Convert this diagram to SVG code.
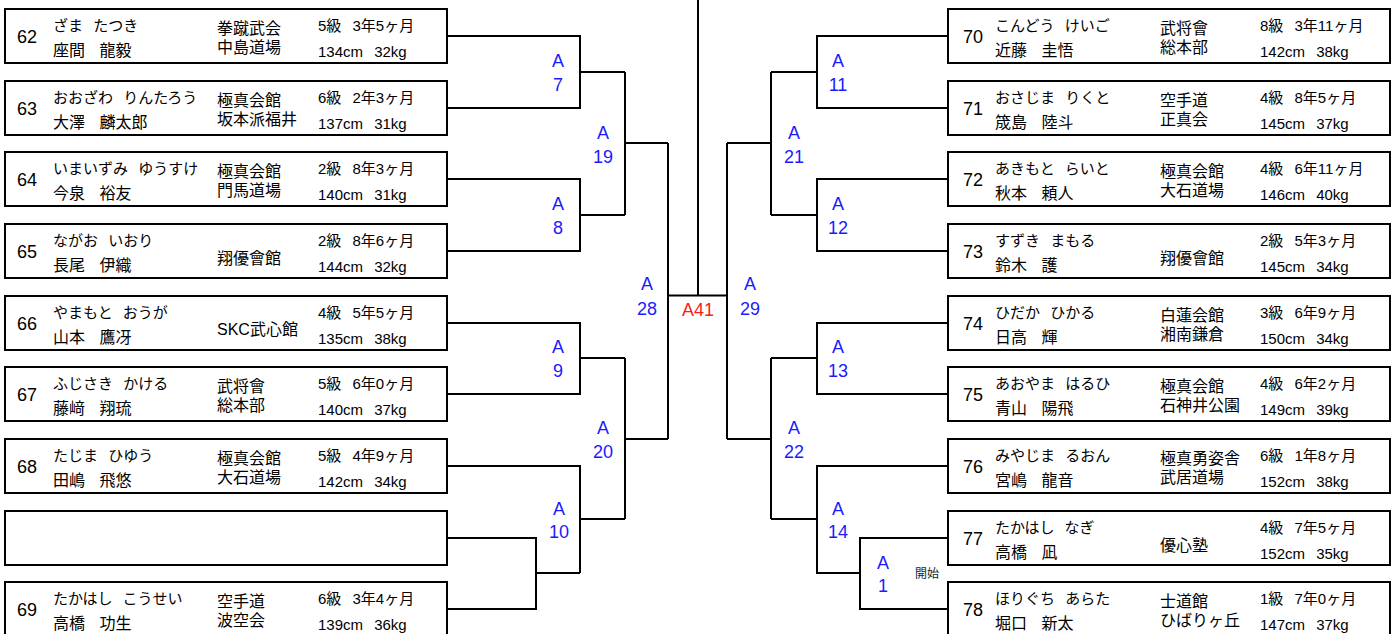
<svg xmlns="http://www.w3.org/2000/svg" width="1397" height="634" viewBox="0 0 1397 634">
<style>
text{font-family:"Liberation Sans","Noto Sans CJK JP",sans-serif;fill:#000}
.box{fill:#fff;stroke:#000;stroke-width:2}
.num{font-size:18px}
.kana{font-size:15px;word-spacing:6px}
.kanji{font-size:16px;word-spacing:10px}
.dojo{font-size:16px}
.grade{font-size:15px;word-spacing:7px}
.lbl{font-size:18px;fill:#1a1aff;text-anchor:middle}
.red{fill:#ff1a1a}
.start{font-size:12px;fill:#222}
.wire{fill:none;stroke:#000;stroke-width:2}
</style>
<rect width="1397" height="634" fill="#fff"/>
<g id="connectors" class="wire">
<path d="M447,36H580V108H447M580,72H625"/>
<path d="M447,179H580V251H447M580,215H625"/>
<path d="M625,72V215M625,143H668"/>
<path d="M447,323H580V394H447M580,358H625"/>
<path d="M447,538H536V609H447M536,573H580"/>
<path d="M447,466H580V573M580,519H625"/>
<path d="M625,358V519M625,439H668"/>
<path d="M668,143V439"/>
<path d="M668,295.5H727M698,0V295.5"/>
<path d="M727,143V439M727,143H771M727,439H771"/>
<path d="M771,72V215M771,72H817M771,215H817"/>
<path d="M948,36H817V108H948"/>
<path d="M948,179H817V251H948"/>
<path d="M771,358V519M771,358H817M771,519H817"/>
<path d="M948,323H817V394H948"/>
<path d="M948,466H817V573H860"/>
<path d="M948,538H860V609H948"/>
</g>
<g id="labels">
<text class="lbl"><tspan x="558" y="67">A</tspan><tspan x="558" y="90.5">7</tspan></text>
<text class="lbl"><tspan x="558" y="210">A</tspan><tspan x="558" y="233.5">8</tspan></text>
<text class="lbl"><tspan x="558" y="353">A</tspan><tspan x="558" y="377">9</tspan></text>
<text class="lbl"><tspan x="559" y="514.5">A</tspan><tspan x="559" y="538">10</tspan></text>
<text class="lbl"><tspan x="603" y="138.5">A</tspan><tspan x="603" y="162.5">19</tspan></text>
<text class="lbl"><tspan x="603" y="434">A</tspan><tspan x="603" y="458">20</tspan></text>
<text class="lbl"><tspan x="647" y="290">A</tspan><tspan x="647" y="315">28</tspan></text>
<text class="lbl red" x="698" y="316">A41</text>
<text class="lbl"><tspan x="750" y="290">A</tspan><tspan x="750" y="315">29</tspan></text>
<text class="lbl"><tspan x="794" y="138.5">A</tspan><tspan x="794" y="162.5">21</tspan></text>
<text class="lbl"><tspan x="794" y="434">A</tspan><tspan x="794" y="458">22</tspan></text>
<text class="lbl"><tspan x="838" y="67">A</tspan><tspan x="838" y="90.5">11</tspan></text>
<text class="lbl"><tspan x="838" y="210">A</tspan><tspan x="838" y="233.5">12</tspan></text>
<text class="lbl"><tspan x="838" y="353">A</tspan><tspan x="838" y="377">13</tspan></text>
<text class="lbl"><tspan x="838" y="514.5">A</tspan><tspan x="838" y="538">14</tspan></text>
<text class="lbl"><tspan x="883" y="568.5">A</tspan><tspan x="883" y="592">1</tspan></text>
<text class="start" x="915" y="578">開始</text>
</g>
<g id="p62" transform="translate(5,36)"><rect class="box" x="0" y="-27" width="442" height="54"/>
<text class="num" x="12" y="7">62</text><text class="kana" x="48" y="-5">ざま たつき</text><text class="kanji" x="48" y="20">座間 龍毅</text>
<text class="dojo" x="212" y="-2">拳蹴武会</text><text class="dojo" x="212" y="17">中島道場</text>
<text class="grade" x="313" y="-5">5級 3年5ヶ月</text><text class="grade" x="313" y="21">134cm 32kg</text></g>
<g id="p63" transform="translate(5,108)"><rect class="box" x="0" y="-27" width="442" height="54"/>
<text class="num" x="12" y="7">63</text><text class="kana" x="48" y="-5">おおざわ りんたろう</text><text class="kanji" x="48" y="20">大澤 麟太郎</text>
<text class="dojo" x="212" y="-2">極真会館</text><text class="dojo" x="212" y="17">坂本派福井</text>
<text class="grade" x="313" y="-5">6級 2年3ヶ月</text><text class="grade" x="313" y="21">137cm 31kg</text></g>
<g id="p64" transform="translate(5,179)"><rect class="box" x="0" y="-27" width="442" height="54"/>
<text class="num" x="12" y="7">64</text><text class="kana" x="48" y="-5">いまいずみ ゆうすけ</text><text class="kanji" x="48" y="20">今泉 裕友</text>
<text class="dojo" x="212" y="-2">極真会館</text><text class="dojo" x="212" y="17">門馬道場</text>
<text class="grade" x="313" y="-5">2級 8年3ヶ月</text><text class="grade" x="313" y="21">140cm 31kg</text></g>
<g id="p65" transform="translate(5,251)"><rect class="box" x="0" y="-27" width="442" height="54"/>
<text class="num" x="12" y="7">65</text><text class="kana" x="48" y="-5">ながお いおり</text><text class="kanji" x="48" y="20">長尾 伊織</text>
<text class="dojo" x="212" y="13">翔優會館</text>
<text class="grade" x="313" y="-5">2級 8年6ヶ月</text><text class="grade" x="313" y="21">144cm 32kg</text></g>
<g id="p66" transform="translate(5,323)"><rect class="box" x="0" y="-27" width="442" height="54"/>
<text class="num" x="12" y="7">66</text><text class="kana" x="48" y="-5">やまもと おうが</text><text class="kanji" x="48" y="20">山本 鷹冴</text>
<text class="dojo" x="212" y="12">SKC武心館</text>
<text class="grade" x="313" y="-5">4級 5年5ヶ月</text><text class="grade" x="313" y="21">135cm 38kg</text></g>
<g id="p67" transform="translate(5,394)"><rect class="box" x="0" y="-27" width="442" height="54"/>
<text class="num" x="12" y="7">67</text><text class="kana" x="48" y="-5">ふじさき かける</text><text class="kanji" x="48" y="20">藤﨑 翔琉</text>
<text class="dojo" x="212" y="-2">武将會</text><text class="dojo" x="212" y="17">総本部</text>
<text class="grade" x="313" y="-5">5級 6年0ヶ月</text><text class="grade" x="313" y="21">140cm 37kg</text></g>
<g id="p68" transform="translate(5,466)"><rect class="box" x="0" y="-27" width="442" height="54"/>
<text class="num" x="12" y="7">68</text><text class="kana" x="48" y="-5">たじま ひゆう</text><text class="kanji" x="48" y="20">田嶋 飛悠</text>
<text class="dojo" x="212" y="-2">極真会館</text><text class="dojo" x="212" y="17">大石道場</text>
<text class="grade" x="313" y="-5">5級 4年9ヶ月</text><text class="grade" x="313" y="21">142cm 34kg</text></g>
<g id="bye" transform="translate(5,538)"><rect class="box" x="0" y="-27" width="442" height="54"/></g>
<g id="p69" transform="translate(5,609)"><rect class="box" x="0" y="-27" width="442" height="54"/>
<text class="num" x="12" y="7">69</text><text class="kana" x="48" y="-5">たかはし こうせい</text><text class="kanji" x="48" y="20">高橋 功生</text>
<text class="dojo" x="212" y="-2">空手道</text><text class="dojo" x="212" y="17">波空会</text>
<text class="grade" x="313" y="-5">6級 3年4ヶ月</text><text class="grade" x="313" y="21">139cm 36kg</text></g>
<g id="p70" transform="translate(948,36)"><rect class="box" x="0" y="-27" width="442" height="54"/>
<text class="num" x="15" y="7">70</text><text class="kana" x="47" y="-5">こんどう けいご</text><text class="kanji" x="47" y="20">近藤 圭悟</text>
<text class="dojo" x="212" y="-2">武将會</text><text class="dojo" x="212" y="17">総本部</text>
<text class="grade" x="312" y="-5">8級 3年11ヶ月</text><text class="grade" x="312" y="21">142cm 38kg</text></g>
<g id="p71" transform="translate(948,108)"><rect class="box" x="0" y="-27" width="442" height="54"/>
<text class="num" x="15" y="7">71</text><text class="kana" x="47" y="-5">おさじま りくと</text><text class="kanji" x="47" y="20">筬島 陸斗</text>
<text class="dojo" x="212" y="-2">空手道</text><text class="dojo" x="212" y="17">正真会</text>
<text class="grade" x="312" y="-5">4級 8年5ヶ月</text><text class="grade" x="312" y="21">145cm 37kg</text></g>
<g id="p72" transform="translate(948,179)"><rect class="box" x="0" y="-27" width="442" height="54"/>
<text class="num" x="15" y="7">72</text><text class="kana" x="47" y="-5">あきもと らいと</text><text class="kanji" x="47" y="20">秋本 頼人</text>
<text class="dojo" x="212" y="-2">極真会館</text><text class="dojo" x="212" y="17">大石道場</text>
<text class="grade" x="312" y="-5">4級 6年11ヶ月</text><text class="grade" x="312" y="21">146cm 40kg</text></g>
<g id="p73" transform="translate(948,251)"><rect class="box" x="0" y="-27" width="442" height="54"/>
<text class="num" x="15" y="7">73</text><text class="kana" x="47" y="-5">すずき まもる</text><text class="kanji" x="47" y="20">鈴木 護</text>
<text class="dojo" x="212" y="13">翔優會館</text>
<text class="grade" x="312" y="-5">2級 5年3ヶ月</text><text class="grade" x="312" y="21">145cm 34kg</text></g>
<g id="p74" transform="translate(948,323)"><rect class="box" x="0" y="-27" width="442" height="54"/>
<text class="num" x="15" y="7">74</text><text class="kana" x="47" y="-5">ひだか ひかる</text><text class="kanji" x="47" y="20">日高 輝</text>
<text class="dojo" x="212" y="-2">白蓮会館</text><text class="dojo" x="212" y="17">湘南鎌倉</text>
<text class="grade" x="312" y="-5">3級 6年9ヶ月</text><text class="grade" x="312" y="21">150cm 34kg</text></g>
<g id="p75" transform="translate(948,394)"><rect class="box" x="0" y="-27" width="442" height="54"/>
<text class="num" x="15" y="7">75</text><text class="kana" x="47" y="-5">あおやま はるひ</text><text class="kanji" x="47" y="20">青山 陽飛</text>
<text class="dojo" x="212" y="-2">極真会館</text><text class="dojo" x="212" y="17">石神井公園</text>
<text class="grade" x="312" y="-5">4級 6年2ヶ月</text><text class="grade" x="312" y="21">149cm 39kg</text></g>
<g id="p76" transform="translate(948,466)"><rect class="box" x="0" y="-27" width="442" height="54"/>
<text class="num" x="15" y="7">76</text><text class="kana" x="47" y="-5">みやじま るおん</text><text class="kanji" x="47" y="20">宮嶋 龍音</text>
<text class="dojo" x="212" y="-2">極真勇姿舎</text><text class="dojo" x="212" y="17">武居道場</text>
<text class="grade" x="312" y="-5">6級 1年8ヶ月</text><text class="grade" x="312" y="21">152cm 38kg</text></g>
<g id="p77" transform="translate(948,538)"><rect class="box" x="0" y="-27" width="442" height="54"/>
<text class="num" x="15" y="7">77</text><text class="kana" x="47" y="-5">たかはし なぎ</text><text class="kanji" x="47" y="20">高橋 凪</text>
<text class="dojo" x="212" y="13">優心塾</text>
<text class="grade" x="312" y="-5">4級 7年5ヶ月</text><text class="grade" x="312" y="21">152cm 35kg</text></g>
<g id="p78" transform="translate(948,609)"><rect class="box" x="0" y="-27" width="442" height="54"/>
<text class="num" x="15" y="7">78</text><text class="kana" x="47" y="-5">ほりぐち あらた</text><text class="kanji" x="47" y="20">堀口 新太</text>
<text class="dojo" x="212" y="-2">士道館</text><text class="dojo" x="212" y="17">ひばりヶ丘</text>
<text class="grade" x="312" y="-5">1級 7年0ヶ月</text><text class="grade" x="312" y="21">147cm 37kg</text></g>
</svg>
